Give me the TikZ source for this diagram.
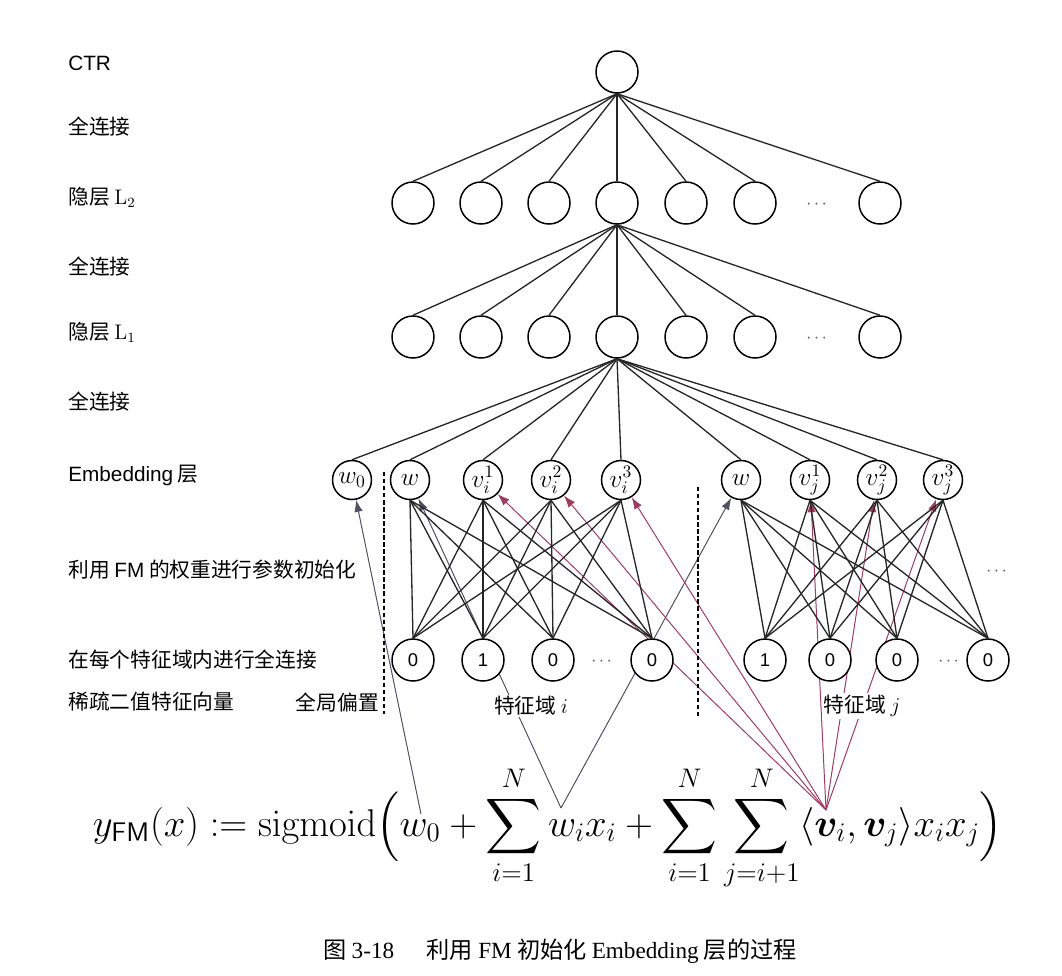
\documentclass[tikz,border=0pt]{standalone}
\usepackage{amsmath,bm,graphicx}
\usepackage[no-math]{fontspec}
\setmainfont{Liberation Sans}
\newfontfamily\cjk{Noto Sans CJK SC}
\newfontfamily\lat{Liberation Sans}
\newfontfamily\ser{Liberation Serif}
\usetikzlibrary{arrows.meta}
\pgfdeclarelayer{back}
\pgfsetlayers{back,main}
\definecolor{fmred}{RGB}{160,60,90}
\definecolor{fmgray}{RGB}{80,82,100}

\begin{document}
\begin{tikzpicture}[x=0.02cm,y=-0.02cm,
        unit/.style = {draw,circle,fill=white,line width=0.85pt,minimum size=0.84cm,inner sep=0pt},
        emb/.style = {unit,minimum size=0.78cm,font=\fontsize{14}{14}\selectfont},
        bit/.style = {unit,font=\fontsize{10.5}{10.5}\selectfont},
        lbl/.style = {anchor=west,inner sep=0pt,font=\cjk\fontsize{11.8}{14}\selectfont},
        tag/.style = {lbl,anchor=center,fill=white,inner sep=1pt},
        more/.style = {font=\fontsize{10}{10}\selectfont,text=black!70},
        link/.style = {line width=0.75pt,draw=black!85},
        warr/.style = {-{Latex[length=2.4mm,width=1.7mm]},line width=0.55pt,draw=fmgray,fill=fmgray},
        varr/.style = {warr,draw=fmred,fill=fmred}]
    \useasboundingbox (0,0) rectangle (1062,975);
    \node[lbl] (l-ctr) at (68,63) {\lat CTR};
    \node[lbl] (l-fc3) at (68,127) {全连接};
    \node[lbl] (l-h2) at (68,197) {隐层 $\mathrm{L}_2$};
    \node[lbl] (l-fc2) at (68,267) {全连接};
    \node[lbl] (l-h1) at (68,332) {隐层 $\mathrm{L}_1$};
    \node[lbl] (l-fc1) at (68,402) {全连接};
    \node[lbl] (l-emb) at (68,475) {{\lat Embedding} 层};
    \node[lbl] (l-init) at (68,570) {利用 {\lat FM} 的权重进行参数初始化};
    \node[lbl] (l-field) at (68,660) {在每个特征域内进行全连接};
    \node[lbl] (l-sparse) at (68,702) {稀疏二值特征向量};
    \node[tag,anchor=east] (l-bias) at (381,702) {全局偏置};

    \node[unit] (ctr) at (617,72) {};
    \foreach \x [count=\k] in {413,481,549,617,686,755,880}{
        \node[unit] (h2-\k) at (\x,203) {};
        \node[unit] (h1-\k) at (\x,337) {};
        \draw[link] (ctr.south) -- (h2-\k.north);
    }
    \foreach \k in {1,...,7}
        \draw[link] (h2-4.south) -- (h1-\k.north);
    \node[more] (h2-more) at (818,205) {$\cdots$};
    \node[more] (h1-more) at (818,339) {$\cdots$};

    \node[emb] (w0) at (352,480) {$w_0$};
    \node[emb] (wi) at (410,480) {$w$};
    \node[emb] (vi1) at (483,480) {$v_i^1$};
    \node[emb] (vi2) at (551,480) {$v_i^2$};
    \node[emb] (vi3) at (621,480) {$v_i^3$};
    \node[emb] (wj) at (741,480) {$w$};
    \node[emb] (vj1) at (810,480) {$v_j^1$};
    \node[emb] (vj2) at (877,480) {$v_j^2$};
    \node[emb] (vj3) at (943,480) {$v_j^3$};
    \foreach \t in {w0,wi,vi1,vi2,vi3,wj,vj1,vj2,vj3}
        \draw[link] (h1-4.south) -- (\t.north);

    \foreach \x/\b [count=\k] in {413/0,483/1,553/0,652/0}
        \node[bit] (si\k) at (\x,660) {\b};
    \foreach \x/\b [count=\k] in {765/1,830/0,897/0,988/0}
        \node[bit] (sj\k) at (\x,660) {\b};
    \node[more] (si-more) at (603,662) {$\cdots$};
    \node[more] (sj-more) at (950,662) {$\cdots$};
    \node[more] (emb-more) at (998,572) {$\cdots$};
    \foreach \s in {1,...,4}
        \foreach \t in {wi,vi1,vi2,vi3}
            \draw[link] (si\s.north) -- (\t.south);
    \foreach \s in {1,...,4}
        \foreach \t in {wj,vj1,vj2,vj3}
            \draw[link] (sj\s.north) -- (\t.south);

    \draw[line width=0.9pt,dash pattern=on 2.5pt off 1.5pt] (384,472) -- (384,714);
    \draw[line width=0.9pt,dash pattern=on 2.5pt off 1.5pt] (698,487) -- (698,717);
    \node[tag] (fi) at (531,706) {特征域 $i$};
    \node[tag] (fj) at (862,706) {特征域 $j$};

    \node[font=\fontsize{20}{24}\selectfont] (fm) at (548,828)
        {\scalebox{1.062}{$\displaystyle y_{\mathsf{FM}}(x) := \mathrm{sigmoid}\Big(w_0+\sum_{i=1}^{N}w_ix_i+\sum_{i=1}^{N}\sum_{j=i+1}^{N}\langle\bm{v}_i,\bm{v}_j\rangle x_ix_j\Big)$}};
    \coordinate (fw0) at (421,814);
    \coordinate (fwi) at (561,808);
    \coordinate (fvv) at (826,810);
    \begin{pgfonlayer}{back}
        \draw[warr] (fw0) -- (w0);
        \draw[warr] (fwi) -- (wi);
        \draw[warr] (fwi) -- (wj);
        \foreach \t in {vi1,vi2,vi3,vj1,vj2,vj3}
            \draw[varr] (fvv) -- (\t);
    \end{pgfonlayer}

    \node[font=\cjk\fontsize{13.2}{15}\selectfont] (cap) at (560,951) {图 {\ser 3-18}\hspace{1.4em}利用 {\ser FM} 初始化 {\ser Embedding} 层的过程};
\end{tikzpicture}
\end{document}
